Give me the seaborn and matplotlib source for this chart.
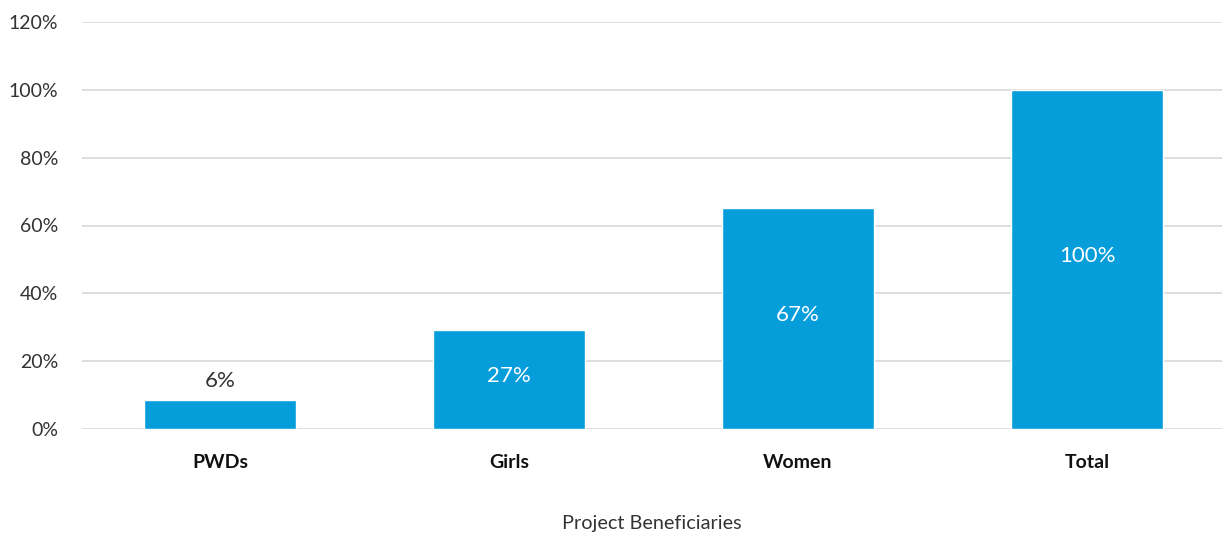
import matplotlib
matplotlib.use("Agg")
import matplotlib.pyplot as plt
import seaborn as sns
import pandas as pd

categories = ["PWDs", "Girls", "Women", "Total"]
bar_values = [8.6, 29.2, 65.2, 100.0]
value_labels = ["6%", "27%", "67%", "100%"]
y_ticks = [0, 20, 40, 60, 80, 100, 120]
y_tick_labels = ["0%", "20%", "40%", "60%", "80%", "100%", "120%"]

sns.set_theme(style="white")
plt.rcParams["font.family"] = ["Lato", "DejaVu Sans"]

df = pd.DataFrame({"cat": categories, "val": bar_values})

fig = plt.figure(figsize=(12.23, 5.39), dpi=100)
ax = fig.add_axes([82/1223, 1-429/539, (1222-82)/1223, (429-22)/539])

sns.barplot(data=df, x="cat", y="val", color="#069ddb", saturation=1,
            width=0.526, ax=ax, zorder=3)

ax.set_ylim(0, 120)
ax.set_xlim(-0.4775, 3.467)
ax.set_yticks(y_ticks)
ax.set_yticklabels(y_tick_labels, fontsize=14, color="#333333", fontweight="normal")
ax.yaxis.grid(True, color="#d4d4d4", linewidth=1.1, zorder=0)
ax.tick_params(axis="y", length=0, pad=17)
ax.tick_params(axis="x", length=0, pad=18)
for lbl in ax.get_xticklabels():
    lbl.set_fontweight("bold")
    lbl.set_fontsize(14)
    lbl.set_color("#111111")
for s in ax.spines.values():
    s.set_visible(False)

ax.set_xlabel("Project Beneficiaries", fontsize=14.3, color="#333333", labelpad=32, fontweight="normal")
ax.set_ylabel("")

bars = ax.containers[0]
for i, (rect, lab) in enumerate(zip(bars, value_labels)):
    x = rect.get_x() + rect.get_width() / 2
    h = rect.get_height()
    if h < 15:
        ax.text(x, h + 2.5, lab, ha="center", va="bottom", fontsize=16,
                color="#333333", fontweight="normal", zorder=4)
    else:
        ax.text(x, h / 2 + 1, lab, ha="center", va="center", fontsize=16,
                color="white", fontweight="normal", zorder=4)

fig.savefig("out.png", dpi=100)
